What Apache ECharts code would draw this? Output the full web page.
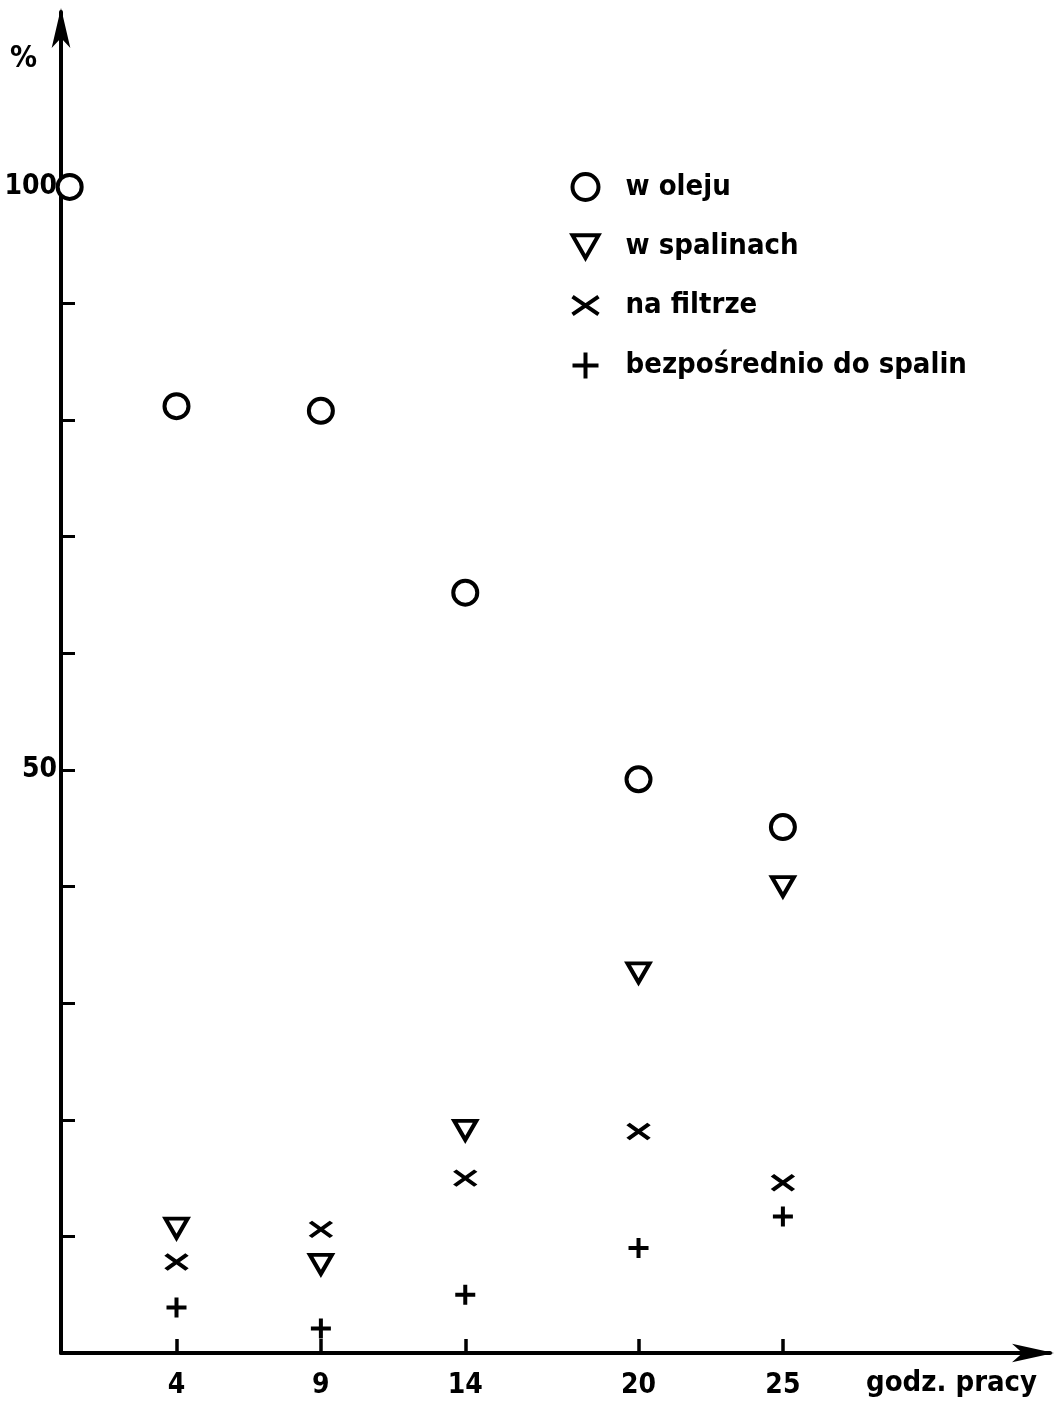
<!DOCTYPE html>
<html>
<head>
<meta charset="utf-8">
<script src="https://cdn.jsdelivr.net/npm/echarts@6/dist/echarts.min.js"></script>
<style>
html,body{margin:0;padding:0;background:#fff;}
#c{width:1055px;height:1401px;}
</style>
</head>
<body>
<div id="c"></div>
<script>
// ---- data ----
const hours = [4, 9, 14, 20, 25];
const oilX = [0.3, 4, 9, 14, 20, 25];
const oilY = [100, 81.2, 80.8, 65.2, 49.2, 45.1];
const exhaustY = [10.7, 7.6, 19.1, 32.6, 40.0];
const filterY = [7.8, 10.6, 15.0, 19.0, 14.6];
const directY = [3.9, 2.1, 5.0, 9.0, 11.7];
const yTicks = [10, 20, 30, 40, 50, 60, 70, 80, 90, 100];
const yLabels = [50, 100];
const seriesNames = ['w oleju', 'w spalinach', 'na filtrze', 'bezpośrednio do spalin'];

const FONT = '"DejaVu Sans Condensed", "DejaVu Sans", sans-serif';
const pairs = (xs, ys) => xs.map((x, i) => [x, ys[i]]);

const chart = echarts.init(document.getElementById('c'), null, {renderer: 'canvas'});
chart.setOption({
  backgroundColor: '#fff',
  animation: false,
  grid: {left: 61, right: 5, top: 12, bottom: 48, containLabel: false},
  xAxis: {
    type: 'value', min: 0, max: 34.25,
    splitLine: {show: false},
    axisLine: {lineStyle: {color: '#000', width: 4}, symbol: ['none', 'arrow'], symbolSize: [14, 42], symbolOffset: [0, 4]},
    axisTick: {show: true, inside: true, length: 14, lineStyle: {color: '#000', width: 3.5}, customValues: hours},
    axisLabel: {show: true, customValues: hours, color: '#000', fontFamily: FONT, fontWeight: 'bold', fontSize: 28, margin: 19}
  },
  yAxis: {
    type: 'value', min: 0, max: 115,
    splitLine: {show: false},
    axisLine: {lineStyle: {color: '#000', width: 4}, symbol: ['none', 'arrow'], symbolSize: [14, 40], symbolOffset: [0, 4]},
    axisTick: {show: true, inside: true, length: 14, lineStyle: {color: '#000', width: 3}, customValues: yTicks},
    axisLabel: {show: true, customValues: yLabels, color: '#000', fontFamily: FONT, fontWeight: 'bold', fontSize: 28, margin: 4}
  },
  legend: {
    orient: 'vertical', left: 565, top: 167, itemGap: 30,
    itemWidth: 26, itemHeight: 26,
    itemStyle: {borderWidth: 4, borderColor: '#000', opacity: 1},
    textStyle: {color: '#000', fontFamily: FONT, fontWeight: 'bold', fontSize: 29, padding: [0, 0, 0, 22]},
    data: seriesNames
  },
  graphic: [
    {type: 'text', left: 10, top: 44, style: {text: '%', fill: '#000', font: 'bold 30px ' + FONT}},
    {type: 'text', left: 866, top: 1369, style: {text: 'godz. pracy', fill: '#000', font: 'bold 29px ' + FONT}}
  ],
  series: [
    {
      name: seriesNames[0], type: 'scatter', symbol: 'circle', symbolSize: 24,
      itemStyle: {color: '#fff', borderColor: '#000', borderWidth: 4, opacity: 1},
      data: pairs(oilX, oilY)
    },
    {
      name: seriesNames[1], type: 'scatter', symbol: 'path://M0,0 L24,0 L12,21 Z', symbolSize: [22, 19],
      itemStyle: {color: '#fff', borderColor: '#000', borderWidth: 4, opacity: 1},
      data: pairs(hours, exhaustY)
    },
    {
      name: seriesNames[2], type: 'scatter', symbol: 'path://M0,0 L22,15 M22,0 L0,15', symbolSize: [21, 15],
      itemStyle: {color: 'none', borderColor: '#000', borderWidth: 4, opacity: 1},
      data: pairs(hours, filterY)
    },
    {
      name: seriesNames[3], type: 'scatter', symbol: 'path://M10,0 L10,20 M0,10 L20,10', symbolSize: [20, 20],
      itemStyle: {color: 'none', borderColor: '#000', borderWidth: 4, opacity: 1},
      data: pairs(hours, directY)
    }
  ]
});
</script>
</body>
</html>
